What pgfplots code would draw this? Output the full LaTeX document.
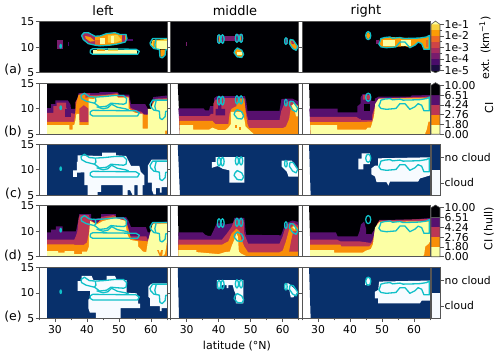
\documentclass[border=0pt]{standalone}
\usepackage{pgfplots}
\pgfplotsset{compat=1.18}
\usepackage{fontspec}
\setmainfont{DejaVu Sans}
\definecolor{cK}{HTML}{000004}
\definecolor{cP}{HTML}{57106E}
\definecolor{cM}{HTML}{BC3754}
\definecolor{cO}{HTML}{F98E09}
\definecolor{cY}{HTML}{FCFFA4}
\definecolor{nv}{HTML}{08306B}
\definecolor{wh}{HTML}{F7FBFF}
\definecolor{cyc}{HTML}{10C0C8}
\definecolor{e1}{HTML}{1B0C41}
\definecolor{e2}{HTML}{4A0C6B}
\definecolor{e3}{HTML}{781C6D}
\definecolor{e4}{HTML}{A52C60}
\definecolor{e5}{HTML}{CF4446}
\definecolor{e6}{HTML}{ED6925}
\definecolor{e7}{HTML}{FB9B06}
\definecolor{e8}{HTML}{F7D13D}
\definecolor{sp}{HTML}{555555}
\newcommand{\tf}{\fontsize{10.8}{12}\selectfont}
\newcommand{\ttf}{\fontsize{13}{15}\selectfont}
\newcommand{\gf}{\fontsize{12.5}{14}\selectfont}
\newcommand{\F}[2]{\addplot[fill=#1,draw=none] coordinates {#2};}
\newcommand{\C}[1]{\addplot[draw=cyc,line width=1.3pt,line join=round] coordinates {#1};}
% contours, left column
\newcommand{\CLcommon}{%
\C{(32,10.2)(31.9,10.45)(31.8,10.55)(31.65,10.45)(31.55,10.2)(31.65,9.95)(31.8,9.85)(31.9,9.95)(32,10.2)}
\C{(41,9.4)(41.8,9.7)(55.3,9.6)(56.35,9.2)(55.8,8.6)(41.8,8.6)(41,8.9)(41,9.4)}
\C{(65.5,11.7)(60.5,11.7)(59.7,10.84)(59.9,10.4)(60.9,9.74)(62.6,9.55)(62.8,8.1)(63.5,7.9)(64.4,8.44)(64.6,9.5)(65.5,9.5)}
\C{(61.6,11.55)(61.2,10.5)(61.5,9.7)}}
\newcommand{\CL}{\CLcommon
\C{(38.1,12.6)(39.2,13.06)(40.7,12.4)(42.6,12.3)(42.8,11.5)(42.3,11.1)(39.7,11.5)(38.3,12)(38.1,12.6)}
\C{(42.8,12.3)(45.4,12.4)(48.5,12.6)(51.4,12.6)(52.4,12)(52.2,11.1)(51.4,10.9)(49.1,11)(47.5,11.1)(46.1,10.5)(43.9,10.35)(42.8,10.9)(42.3,11.1)}
\C{(43,10.4)(45,10)(46.5,10.2)(47.7,10.9)(49.5,10.3)(52,10)(53,9.8)}}
\newcommand{\CLa}{\CLcommon
\C{(38.3,12.3)(39.1,12.85)(40.4,12.85)(42.5,12.15)(44.1,12.2)(46.1,12.66)(48.75,12.85)(50.3,12.5)(52.2,12.5)(52.5,11.7)(51.9,11)(49.3,10.6)(47.2,10.4)(44.1,10.26)(42.5,10.4)(40.4,10.7)(38.85,11.5)(38.3,12.3)}}
% contours, middle column
\newcommand{\CM}{%
\C{(40.6,11.6)(40.45,12.2)(40.1,12.45)(39.75,12.2)(39.6,11.6)(39.75,11)(40.1,10.75)(40.45,11)(40.6,11.6)}
\C{(41.7,11.6)(41.55,12.2)(41.2,12.45)(40.85,12.2)(40.7,11.6)(40.85,11)(41.2,10.75)(41.55,11)(41.7,11.6)}
\C{(46.2,11.75)(46.05,12.3)(45.7,12.55)(45.35,12.3)(45.2,11.75)(45.35,11.2)(45.7,10.95)(46.05,11.2)(46.2,11.75)}
\C{(47.5,11.75)(47.35,12.3)(47,12.55)(46.65,12.3)(46.5,11.75)(46.65,11.2)(47,10.95)(47.35,11.2)(47.5,11.75)}
\C{(45.1,9.4)(45.8,9.85)(47.2,9.4)(47.8,8.6)(47.2,8)(45.8,8.1)(44.8,8.9)(45.1,9.4)}
\C{(61.4,11.2)(61.3,11.65)(61,11.85)(60.7,11.65)(60.6,11.2)(60.7,10.75)(61,10.55)(61.3,10.75)(61.4,11.2)}
\C{(62.3,11.5)(63.3,11.4)(64.7,10.1)(64.2,9.4)(63.1,9.75)(62.1,10.7)(62.3,11.5)}}
% contours, right column
\newcommand{\CR}{%
\C{(46.5,12.27)(46.25,12.85)(45.7,13.07)(45.15,12.85)(44.9,12.27)(45.15,11.7)(45.7,11.47)(46.25,11.7)(46.5,12.27)}
\C{(49.35,11.04)(49.66,11.7)(50.9,11.9)(52.5,12)(53.3,11.75)(55.6,11.9)(56.6,11.7)(59.8,11.75)(61.85,11.8)(63.9,12)(64.8,12.3)(64.8,9.6)(63.1,9.6)(62.4,10.7)(61.3,11)(60.3,10.4)(58.7,9.9)(57.2,11)(55.6,11)(54.35,10.06)(51.4,9.9)(49.66,10.06)(49,10.6)(49.35,11.04)}}
\pgfplotsset{
 panel/.style={scale only axis,width=128pt,height=51pt,xmin=25,xmax=65,ymin=5,ymax=15,
  ytick={5,10,15},yticklabels={},xtick=\empty,tick align=outside,tick pos=left,
  axis line style={draw=sp,line width=.7pt},tick style={draw=sp,line width=.6pt},
  major tick length=3.5pt,minor tick length=2pt,axis on top,
  ticklabel style={font=\tf},yticklabel style={inner sep=1pt},xticklabel style={inner sep=3.5pt}},
 lab/.style={yticklabels={5,10,15}},
 bot/.style={xtick={30,40,50,60},xticklabels={30,40,50,60},minor xtick={25,35,45,55,65}},
 cb/.style={scale only axis,width=9pt,height=51.6pt,xmin=0,xmax=1,xtick=\empty,tick align=outside,
  ytick pos=right,axis line style={draw=none},tick style={draw=sp,line width=.6pt},
  major tick length=3.5pt,minor tick length=2pt,ticklabel style={font=\tf,inner sep=1pt},
  yticklabel style={anchor=west},clip=false,axis on top},
}
\newcommand{\CIcb}[1]{%
\begin{axis}[cb,at={(431pt,#1pt)},ymin=0,ymax=5.27,ytick={0,1,2,3,4,5},yticklabels={0.00,1.80,2.76,4.24,6.51,10.00}]
\F{cY}{(0,0)(1,0)(1,1)(0,1)}
\F{cO}{(0,1)(1,1)(1,2)(0,2)}
\F{cM}{(0,2)(1,2)(1,3)(0,3)}
\F{cP}{(0,3)(1,3)(1,4)(0,4)}
\F{cK}{(0,4)(1,4)(1,5)(.5,5.27)(0,5)}
\addplot[draw=sp,line width=.6pt] coordinates {(0,0)(1,0)(1,5)(.5,5.27)(0,5)(0,0)};
\end{axis}}
\newcommand{\Cloudcb}[1]{%
\begin{axis}[cb,at={(431pt,#1pt)},height=51pt,ymin=0,ymax=1,ytick={.245,.75},yticklabels={cloud,no cloud}]
\F{wh}{(0,0)(1,0)(1,.5)(0,.5)}
\F{nv}{(0,.5)(1,.5)(1,1)(0,1)}
\addplot[draw=sp,line width=.6pt] coordinates {(0,0)(1,0)(1,1)(0,1)(0,0)};
\end{axis}}
\begin{document}
\begin{tikzpicture}[x=1pt,y=1pt]
\path[use as bounding box] (0,0) rectangle (500,356);
\node[font=\ttf] at (103,345.5) {left};
\node[font=\ttf] at (235,345.5) {middle};
\node[font=\ttf] at (366,345.5) {right};
\node[font=\gf,anchor=east,inner sep=0pt] at (22,286) {(a)};
\node[font=\gf,anchor=east,inner sep=0pt] at (22,224) {(b)};
\node[font=\gf,anchor=east,inner sep=0pt] at (22,162) {(c)};
\node[font=\gf,anchor=east,inner sep=0pt] at (22,100) {(d)};
\node[font=\gf,anchor=east,inner sep=0pt] at (22,39) {(e)};
\node[font=\fontsize{11}{13}\selectfont] at (237,10) {latitude (°N)};
\node[font=\fontsize{11}{13}\selectfont,rotate=90] at (485,308) {ext. (km\textsuperscript{−1})};
\node[font=\fontsize{11}{13}\selectfont,rotate=90] at (489,248) {CI};
\node[font=\fontsize{11}{13}\selectfont,rotate=90] at (489,127) {CI (hull)};
% ===== row a =====
\begin{axis}[panel,lab,at={(39pt,283.3pt)}]
\F{cK}{(25,5)(65,5)(65,15)(25,15)}
\F{e3}{(30.6,9.6)(32.6,9.6)(32.6,11.4)(30.6,11.4)}
\F{e2}{(34,10.3)(34.4,10.3)(34.4,11)(34,11)}
\F{e2}{(52.4,11.2)(54.3,11.2)(54.3,11.7)(52.4,11.7)}
\F{e4}{(38.3,12.3)(39.1,12.85)(40.4,12.85)(42.5,12.15)(44.1,12.2)(44.1,10.26)(42.5,10.4)(40.4,10.7)(38.85,11.5)}
\F{e7}{(39.4,12.2)(41,12)(42.5,11.2)(41,11.1)(39.6,11.7)}
\F{e7}{(42.5,12.1)(44.1,12.2)(46.1,12.66)(48.75,12.85)(50.3,12.5)(52.2,12.5)(52.5,11.7)(51.9,11)(49.3,10.6)(47.2,10.4)(44.1,10.26)(42.5,10.4)}
\F{e6}{(42.5,11.5)(44,11.5)(44,10.5)(42.5,10.5)}
\F{cY}{(44.2,11.9)(45.5,11.9)(45.5,10.6)(44.2,10.6)}
\F{e8}{(46.5,12.3)(49.5,12.4)(50.8,11.4)(49,10.9)(46.5,10.9)}
\F{cY}{(47.4,12.2)(48.4,12.2)(48.4,10.9)(47.4,10.9)}
\F{e4}{(50.8,12.3)(52,12.3)(52,11.1)(50.8,11.1)}
\F{cY}{(41.8,8.7)(55.6,8.7)(55.6,9.5)(41.8,9.5)}
\F{e7}{(43,9.3)(45.5,9.3)(45.5,9.9)(43,9.9)}
\F{e8}{(46.5,9.3)(49.7,9.3)(49.7,9.9)(46.5,9.9)}
\F{e8}{(60.5,11.4)(65,11.6)(65,9.6)(61,9.7)(60,10.5)}
\F{cY}{(61.8,11.2)(65,11.2)(65,9.7)(61.8,9.7)}
\F{e7}{(60.6,10)(61.4,10)(61.4,11.3)(60.6,11.3)}
\F{e7}{(62.9,9.5)(64.4,9.5)(64.3,8.5)(63.4,8.1)(62.9,8.3)}
\CLa
\end{axis}
\begin{axis}[panel,at={(170.7pt,283.3pt)}]
\F{cK}{(25,5)(65,5)(65,15)(25,15)}
\F{e3}{(41.5,11.2)(45.4,11.2)(45.4,12.1)(41.5,12.1)}
\F{e3}{(29.9,10.3)(30.2,10.3)(30.2,11)(29.9,11)}
\F{e3}{(39.6,10.8)(41.7,10.8)(41.7,12.4)(39.6,12.4)}
\F{e3}{(45.2,11)(47.5,11)(47.5,12.5)(45.2,12.5)}
\F{e7}{(40,11)(40.4,11)(40.4,12.1)(40,12.1)}
\F{e7}{(46.6,11.1)(47,11.1)(47,12.2)(46.6,12.2)}
\F{e7}{(45.1,9.4)(45.8,9.85)(47.2,9.4)(47.8,8.6)(47.2,8)(45.8,8.1)(44.8,8.9)}
\F{cY}{(45.6,9)(47.2,9)(47.2,8.5)(45.6,8.5)}
\F{e3}{(60.6,10.6)(61.5,10.6)(61.5,11.8)(60.6,11.8)}
\F{e7}{(62.3,11.5)(63.3,11.4)(64.7,10.1)(64.2,9.4)(63.1,9.75)(62.1,10.7)}
\F{e4}{(62.6,11.3)(63.2,11.2)(63.6,10.6)(62.8,10.6)}
\CM
\end{axis}
\begin{axis}[panel,at={(302pt,283.3pt)}]
\F{cK}{(25,5)(65,5)(65,15)(25,15)}
\F{e7}{(46.5,12.27)(45.7,13.07)(44.9,12.27)(45.7,11.47)}
\F{e3}{(48,10.6)(49,10.6)(49,11.5)(48,11.5)}
\F{e7}{(49.35,11.04)(49.66,11.7)(52.5,12)(55.6,11.9)(59.8,11.75)(61.85,11.8)(63.9,12)(64.8,12.3)(64.8,9.6)(63.1,9.6)(62.4,10.7)(61.3,11)(60.3,10.4)(58.7,9.9)(57.2,10.2)(54.35,10.06)(51.4,9.9)(49.66,10.06)(49,10.6)}
\F{cY}{(50.4,11.5)(54,11.5)(54,10.2)(50.4,10.2)}
\F{cY}{(56,11.5)(59.2,11.5)(59.2,10.3)(56,10.3)}
\F{e6}{(63.8,11.5)(64.5,11.5)(64.5,10)(63.8,10)}
\CR
\end{axis}
\begin{axis}[cb,at={(431pt,283.3pt)},ymin=-5.17,ymax=-0.72,ytick={-5,-4,-3,-2,-1},yticklabels={1e-5,1e-4,1e-3,1e-2,1e-1},minor ytick={-4.5,-3.5,-2.5,-1.5}]
\F{cK}{(0,-5)(.5,-5.17)(1,-5)}
\F{e1}{(0,-5)(1,-5)(1,-4.5)(0,-4.5)}
\F{e2}{(0,-4.5)(1,-4.5)(1,-4)(0,-4)}
\F{e3}{(0,-4)(1,-4)(1,-3.5)(0,-3.5)}
\F{e4}{(0,-3.5)(1,-3.5)(1,-3)(0,-3)}
\F{e5}{(0,-3)(1,-3)(1,-2.5)(0,-2.5)}
\F{e6}{(0,-2.5)(1,-2.5)(1,-2)(0,-2)}
\F{e7}{(0,-2)(1,-2)(1,-1.5)(0,-1.5)}
\F{e8}{(0,-1.5)(1,-1.5)(1,-1)(0,-1)}
\F{cY}{(0,-1)(1,-1)(.5,-.72)}
\addplot[draw=sp,line width=.6pt] coordinates {(.5,-5.17)(1,-5)(1,-1)(.5,-.72)(0,-1)(0,-5)(.5,-5.17)};
\end{axis}
% ===== row b =====
\begin{axis}[panel,lab,at={(39pt,221.7pt)}]
\F{cK}{(27.5,5)(65,5)(65,15)(27.5,15)}
\F{cP}{(27.5,5)(27.5,10.15)(28.75,10.15)(28.75,10.9)(30.1,10.9)(30.1,11.65)(34,11.65)(34.8,10.9)(35,10)(36.55,10)(36.8,11.65)(37.4,13.06)(43.85,13.06)(43.85,13.25)(49.6,13.25)(50.1,12.8)(53.2,12.8)(53.75,10.9)(58.2,10.9)(59,10)(60,10)(60.7,12.3)(65,12.6)(65,5)}
\F{cM}{(27.5,5)(27.5,9.2)(29.5,9.2)(29.5,10.5)(30.5,10.5)(30.5,11.2)(33.5,11.2)(33.5,10.2)(34.5,9.2)(36.4,9)(36.4,11.3)(37.4,12.5)(38,13)(41,13)(41,12.7)(46,12.8)(49.5,13.1)(50,12.5)(53,12.5)(53.6,10.2)(55,9.8)(57,9.4)(58,8.8)(60,9)(60.5,11.3)(61.5,12)(65,12.1)(65,5)}
\F{cP}{(33.2,8.3)(35,8.3)(35,10)(33.2,10)}
\F{cO}{(27.5,5)(27.5,7.45)(36,7.45)(36.3,9)(36.7,11.3)(37.4,12.8)(39.5,12.8)(39.5,12.1)(41,12.4)(47,12.7)(49.5,12.9)(49.7,12.3)(53,12.3)(53.5,10)(55.5,9.3)(56,9)(59,8.8)(60,9)(60.5,11)(61.3,11.8)(65,11.9)(65,5)}
\F{cM}{(37.6,7.4)(40.5,7.4)(40.5,10)(39,10.7)(37.6,10)}
\F{cY}{(27.5,5)(27.5,6.8)(34.5,6.8)(34.5,5.9)(35.5,5.9)(35.5,6.8)(36,6.8)(36.3,7.5)(36.7,9)(37.5,9)(37.6,7.45)(37.6,6.8)(40.5,6.8)(40.5,12)(42,11.9)(44,12.5)(49,12.6)(49.7,12.2)(53,12.2)(53,10)(55,9.2)(56.5,9.07)(57.4,9.07)(57.4,6.1)(59,6.1)(59,10)(60,10)(60.5,10.8)(61.3,11.6)(65,11.6)(65,5.7)(64.4,5.7)(64.4,5)}
\CL
\end{axis}
\begin{axis}[panel,at={(170.7pt,221.7pt)}]
\F{cK}{(27.2,15)(65,15)(65,5)(27.9,5)}
\F{cP}{(27.4,10.1)(35.2,10.1)(35.8,9.7)(37,9.7)(37.3,10.5)(38.6,10.5)(38.6,12.1)(39.5,12.5)(48.2,12.5)(48.6,11.5)(49,9.6)(59,9.6)(59.6,11.9)(61,12)(63,12)(65,11.4)(65,5)(27.9,5)}
\F{cM}{(27.6,8.55)(37,8.55)(37.6,9)(38.3,9)(38.3,11)(39,11.8)(40,11.8)(41,12.1)(48,12.1)(48.4,10)(49.2,7.8)(59,7.8)(59.5,9.5)(60.5,11)(62,11.5)(63,11.5)(65,10.5)(65,5)(27.9,5)}
\F{cP}{(39,8.7)(42,8.7)(42,10)(40.8,10)(40.8,11)(39.8,11)(39.8,10)(39,10)}
\F{cO}{(27.7,7.65)(38,7.65)(39,7)(43,7)(43.4,9)(44,10)(45.5,10.5)(46,12)(48,12)(48.4,9.5)(49,7)(49.5,6.2)(60,6.2)(61,6.5)(62,8)(62.5,10)(63.5,11.2)(65,10.5)(65,5)(27.9,5)}
\F{cY}{(27.8,6.8)(32,6.8)(32,5.9)(37,5.9)(38,6.3)(40,5.8)(42,5.8)(43,6.3)(43.8,7)(43.8,9.4)(47,9.4)(48,8)(48.4,6.5)(50,5.6)(51,5)(27.9,5)}
\F{cO}{(45.2,6.3)(45.8,6.3)(45.8,6.8)(45.2,6.8)}
\F{cO}{(46.3,5.9)(46.9,5.9)(46.9,6.4)(46.3,6.4)}
\F{cY}{(62.7,10.6)(63.5,11)(65,10.3)(65,8.5)(64.2,8.5)(63.8,9.5)}
\CM
\end{axis}
\begin{axis}[panel,at={(302pt,221.7pt)}]
\F{cK}{(27.2,15)(65,15)(65,5)(27.7,5)}
\F{cP}{(27.3,10.05)(36.1,10.05)(36.1,9.3)(42.3,9.3)(42.3,10.5)(43.3,11)(43.3,12.2)(44,12.9)(46.5,12.9)(46.7,11.5)(47.8,11.5)(47.8,12)(49,12.4)(59,12.4)(59,12.6)(65,12.7)(65,5)(27.7,5)}
\F{cM}{(27.5,8.4)(42,8.4)(43,8)(46.5,8)(47.3,9.5)(47.8,10.5)(49,12)(65,12.4)(65,5)(27.7,5)}
\F{cM}{(44,12.7)(46.3,12.7)(46.5,11.8)(44,11.8)}
\F{cK}{(44.3,9.5)(46.3,9.5)(46.3,11)(44.3,11)}
\F{cP}{(43.5,9.5)(47,9.5)(47,7.9)(43.5,7.9)}
\F{cO}{(27.5,7.4)(43,7.4)(47,7.5)(47.7,10)(49.4,12)(65,12.2)(65,5)(27.7,5)}
\F{cY}{(27.6,6.8)(36,6.8)(36,5.9)(45,5.9)(45.5,6.3)(46.5,6.3)(47.5,8.5)(47.9,11)(49,12)(65,12)(65,7.5)(64.5,7.5)(64,6)(63.4,5)(27.7,5)}
\CR
\end{axis}
\CIcb{221.7}
% ===== row c =====
\begin{axis}[panel,lab,at={(39pt,160.7pt)}]
\F{nv}{(27.5,5)(65,5)(65,15)(27.5,15)}
\F{wh}{(37.1,12.84)(44.7,12.7)(44.7,13.37)(49.06,13.37)(49.06,12.84)(52.2,12.7)(53.75,10.75)(56.35,10.75)(56.8,9.6)(57.9,8.9)(57.9,7)(57.4,7)(57.4,5)(55.8,5)(55.8,7)(54.8,7)(54.8,5)(54.3,5)(53.5,6)(52.7,6)(52.7,5)(51.1,5)(51.1,7)(44.4,7)(44.4,5.65)(43.3,5.65)(43.3,5)(40.2,5)(40.2,7)(39.2,7)(39.2,9.5)(36.8,9.44)(36.8,8.6)(35.7,8.6)(35.7,9.9)(36.8,9.9)(36.8,11.54)(37.1,11.54)}
\F{wh}{(59,10.8)(59,7.5)(60.3,7.5)(60.3,6)(60.8,5.2)(61.5,5.2)(61.5,6.4)(62.8,6.4)(62.8,5.5)(63.3,5.5)(63.3,6.6)(65,6.6)(65,12)(60.2,12)}
\CL
\end{axis}
\begin{axis}[panel,at={(170.7pt,160.7pt)}]
\F{nv}{(27.2,15)(65,15)(65,5)(27.9,5)}
\F{wh}{(39,12.5)(48,12.5)(48,7.5)(43.3,7.5)(43.3,9.9)(41.25,10.2)(39.7,10.75)(37.9,10.4)(37.9,11.5)(39,11.5)}
\F{wh}{(59.7,11.8)(62.8,11.8)(64.5,10.3)(65,10)(65,8.66)(61.8,8.66)(61.3,9.6)(59.7,10.6)}
\CM
\end{axis}
\begin{axis}[panel,at={(302pt,160.7pt)}]
\F{nv}{(27.2,15)(65,15)(65,5)(27.7,5)}
\F{wh}{(43.6,13.2)(46.2,13.2)(46.2,11.1)(44.15,11.1)(44.15,10.1)(42.6,10.1)(42.6,12.2)(43.6,12.2)}
\F{wh}{(48.8,12.25)(65,12.45)(65,8.9)(61.85,8.3)(61.3,7.7)(52.5,7.7)(52,6.9)(51.4,7.6)(48.3,7.6)(47.8,8.7)(46.7,9.1)(46.7,10.3)(47.8,10.8)(48.8,10.8)}
\CR
\end{axis}
\Cloudcb{160.7}
% ===== row d =====
\begin{axis}[panel,lab,at={(39pt,99.3pt)}]
\F{cK}{(27.5,5)(65,5)(65,15)(27.5,15)}
\F{cP}{(27.5,9.77)(28.75,9.77)(28.75,10.3)(30.3,10.3)(30.3,10.95)(32.4,10.95)(32.4,9.97)(36.55,9.97)(37.1,11.6)(37.6,13.37)(41.25,13.37)(41.25,12.4)(44.4,12.6)(44.4,13.37)(49.06,13.37)(49.06,12.78)(52.2,12.78)(53,12)(53.75,10.8)(58.4,10.8)(59,9.77)(60,9.77)(60.5,11.6)(65,11.9)(65,5)(27.5,5)}
\F{cM}{(27.5,8.33)(36,8.33)(36.5,9)(37,10)(37.4,12.5)(37.8,13.2)(40.5,13.2)(41,12.5)(43,11)(44.5,12.8)(48.5,13.2)(49,12.5)(52,12.5)(53,10.5)(53.5,9)(58.5,9)(59,8.3)(60,8.5)(60.4,11)(61,11.7)(65,11.7)(65,5)(27.5,5)}
\F{cO}{(27.5,7.4)(36,7.4)(36,7.3)(39,7.3)(40,7.8)(40.7,10)(41,12)(43,11.5)(44,12)(46,12.6)(49,12.9)(49.3,12.2)(52,12.2)(53,10.2)(53.8,8.5)(56,8.2)(59,8)(60,10)(60.6,11.5)(65,11.6)(65,5)(27.5,5)}
\F{cY}{(27.5,6.1)(31,6.1)(31,5.8)(33,5.8)(33,6.1)(36,6.1)(36,5.5)(38.5,5.5)(38.5,6)(40,6)(40.6,7)(40.6,9)(41,12)(43,11.3)(45,12)(49,12.6)(52,12)(52.5,9.5)(53.5,8.3)(56,8)(56,7)(57.5,6)(58.5,5.9)(59,7.8)(59.8,9.8)(60.3,11)(60.8,11.5)(65,11.5)(65,8)(64.5,6)(64.3,5.5)(63.5,5)(27.5,5)}
\F{cO}{(61.9,6.3)(62.8,5)(63.5,5)(63.7,6.3)(63.2,6.3)(62.8,5.6)(62.4,6.3)}
\CL
\end{axis}
\begin{axis}[panel,at={(170.7pt,99.3pt)}]
\F{cK}{(27.2,15)(65,15)(65,5)(27.6,5)}
\F{cP}{(27.4,9.77)(35,9.77)(35.8,9.3)(36.6,9.1)(37.6,9.1)(38.5,10.3)(39.5,11.7)(41,11.7)(42,11.3)(44.5,11.6)(44.9,12.6)(48,12.6)(48.4,10)(48.6,9.3)(59.5,9.2)(60.3,10.6)(61,11.5)(63,12.1)(65,11.8)(65,5)(27.4,5)}
\F{cM}{(27.4,8.33)(41,8.33)(42.5,9.5)(44,10.8)(44.9,12.2)(47.8,12.2)(48,9.5)(49.2,7.55)(59,7.55)(60,9)(60.7,10.5)(62,11.6)(63.5,11.7)(65,11)(65,5)(27.4,5)}
\F{cO}{(27.4,7.35)(41,7.35)(43,8)(44,9.5)(45.5,10.5)(46.5,10)(47,8.5)(48,7)(49.2,5.85)(59,5.85)(60,6.2)(61,8)(62,10.3)(63.5,11.3)(65,10.5)(65,5)(27.4,5)}
\F{cM}{(62,6)(65,6)(65,10)(63.3,10)(62.6,8)}
\F{cY}{(27.4,6.3)(33,6.3)(33,5.9)(40,5.5)(42,5.9)(43.5,6)(44,7)(45,8.5)(45.5,9.5)(46,9)(46.3,6)(47,5.6)(49,5)(27.4,5)}
\F{cY}{(63,10.8)(63.8,11)(63.8,10.3)}
\CM
\end{axis}
\begin{axis}[panel,at={(302pt,99.3pt)}]
\F{cK}{(27.2,15)(65,15)(65,5)(27.7,5)}
\F{cP}{(27.5,9.77)(35.6,9.77)(36.1,9)(42.4,9)(43,10)(43.4,11.3)(44.4,11.9)(45,10.5)(45,9.3)(46.6,9.3)(47.2,9.9)(47.8,10.4)(48.5,11)(49.2,12.2)(60,12.3)(65,12.6)(65,5)(27.5,5)}
\F{cM}{(27.5,8.33)(36,8.33)(37,8)(43,8)(46.5,7.7)(47.3,8.6)(47.8,10.2)(48.5,11.5)(49.2,12.1)(65,12.4)(65,5)(27.5,5)}
\F{cP}{(44,8.1)(46.5,8.1)(46.5,9.4)(44,9.4)}
\F{cO}{(27.5,7.35)(37,7.35)(37.3,7)(46,7)(47,7.7)(47.8,10)(48.5,11.3)(49.2,11.9)(65,12)(65,5)(27.5,5)}
\F{cY}{(27.5,6.3)(35,6.3)(35,5.8)(44,5.8)(45,6.2)(46.5,6.5)(47.2,7.5)(47.8,10.7)(49.2,11.8)(65,11.9)(65,8)(64.5,7.5)(63.5,7)(63.2,5.5)(62.8,5)(27.5,5)}
\CR
\end{axis}
\CIcb{99.3}
% ===== row e =====
\begin{axis}[panel,lab,bot,at={(39pt,37.7pt)}]
\F{nv}{(27.5,5)(65,5)(65,15)(27.5,15)}
\F{wh}{(38.3,13.3)(41.45,13.3)(42,12.5)(46.1,12.5)(46.1,13.3)(48.75,13.3)(49.3,12.5)(52.4,12.5)(52.4,10)(55.5,9.9)(56,9)(56,7.9)(56.6,7.9)(56.6,7)(50.5,7)(50.5,5)(42.8,5)(42.8,6.1)(40.9,6.1)(40.4,7)(40.4,8.6)(41,9)(41,10.4)(37.1,10.4)(37.1,12.3)(38.3,12.3)}
\F{wh}{(60.7,11.86)(65,11.86)(65,7)(63.3,7)(63.3,6.4)(62.8,6.4)(62.8,7.4)(59.7,7.4)(59.7,8.9)(59.2,9.2)(59.2,11.2)(60,11.7)}
\CL
\end{axis}
\begin{axis}[panel,bot,at={(170.7pt,37.7pt)}]
\F{nv}{(27.2,15)(65,15)(65,5)(27.6,5)}
\F{wh}{(39.4,12.5)(47.7,12.5)(47.7,7.94)(45.4,7.94)(45.4,9.6)(44.8,10.5)(44.4,11.5)(43,11.5)(43,10.9)(42.5,10.9)(42.5,11.5)(41,11.5)(40.9,10.85)(39.4,10.85)}
\F{wh}{(60.7,11.86)(61.8,11.86)(64.7,10.2)(63.3,9.1)(62.5,9.1)(62.1,10.56)(60.4,10.9)}
\CM
\end{axis}
\begin{axis}[panel,bot,at={(302pt,37.7pt)}]
\F{nv}{(27.2,15)(65,15)(65,5)(27.7,5)}
\F{wh}{(45,12.9)(46.4,12.9)(46.4,11.5)(44.7,11.5)(44.7,12.3)(45,12.3)}
\F{wh}{(49.1,12.2)(65,12.4)(65,8.46)(62.4,8.46)(61.85,7.94)(48.8,7.94)(48.8,8.9)(47.8,8.9)(47.8,10.2)(48.8,10.56)}
\CR
\end{axis}
\Cloudcb{37.7}
\end{tikzpicture}
\end{document}
